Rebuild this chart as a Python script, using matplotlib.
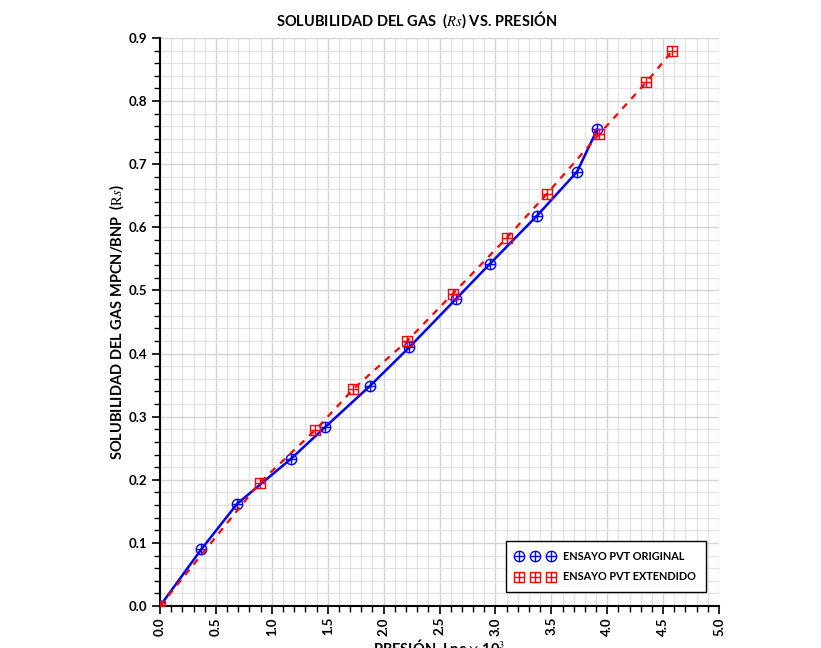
import numpy as np
import matplotlib.pyplot as plt
from matplotlib.path import Path
from matplotlib.ticker import MultipleLocator, FormatStrFormatter

plt.rcParams['font.family'] = ['Lato', 'DejaVu Sans']
plt.rcParams['mathtext.fontset'] = 'stix'

# ensayo PVT original
p_orig = [0.0, 0.37, 0.69, 1.17, 1.48, 1.88, 2.23, 2.65, 2.95, 3.37, 3.73, 3.91]
rs_orig = [0.0, 0.090, 0.162, 0.233, 0.284, 0.349, 0.410, 0.487, 0.542, 0.618, 0.688, 0.755]

# ensayo PVT extendido
p_ext = [0.0, 0.89, 1.39, 1.73, 2.21, 2.62, 3.10, 3.46, 3.93, 4.35, 4.58]
rs_ext = [0.0, 0.195, 0.279, 0.344, 0.420, 0.495, 0.583, 0.653, 0.748, 0.830, 0.879]

# custom markers: circle with a cross, square with a cross
circ = Path.unit_circle()
cross = Path([(-1, 0), (1, 0), (0, -1), (0, 1)],
             [Path.MOVETO, Path.LINETO, Path.MOVETO, Path.LINETO])
oplus = Path.make_compound_path(circ, cross)
sq = Path([(-1, -1), (1, -1), (1, 1), (-1, 1), (-1, -1)],
          [Path.MOVETO, Path.LINETO, Path.LINETO, Path.LINETO, Path.CLOSEPOLY])
boxplus = Path.make_compound_path(sq, cross)

fig = plt.figure(figsize=(8.21, 6.48), dpi=100)
ax = fig.add_axes([0.1949, 0.0648, 0.6809, 0.8766])

ax.plot(p_orig, rs_orig, color='#0000ff', linewidth=1.8, marker=oplus, markersize=7.5,
        markerfacecolor='none', markeredgecolor='#0000ff', markeredgewidth=1.0,
        label='ENSAYO PVT ORIGINAL', zorder=3)
ax.plot(p_ext, rs_ext, color='#ff0000', linewidth=1.6, linestyle=(0, (3, 3)), marker=boxplus,
        markersize=6.5, markerfacecolor='none', markeredgecolor='#ff0000', markeredgewidth=1.0,
        label='ENSAYO PVT EXTENDIDO', zorder=4)

ax.set_xlim(0, 5)
ax.set_ylim(0, 0.9)
ax.xaxis.set_major_locator(MultipleLocator(0.5))
ax.xaxis.set_minor_locator(MultipleLocator(0.1))
ax.yaxis.set_major_locator(MultipleLocator(0.1))
ax.yaxis.set_minor_locator(MultipleLocator(0.02))
ax.xaxis.set_major_formatter(FormatStrFormatter('%.1f'))
ax.yaxis.set_major_formatter(FormatStrFormatter('%.1f'))

ax.grid(which='minor', color='#e3e3e3', linewidth=0.9)
ax.grid(which='major', color='#d4d4d4', linewidth=1.0)
ax.set_axisbelow(True)
ax.spines['top'].set_visible(False)
ax.spines['right'].set_visible(False)
ax.spines['left'].set_linewidth(1.5)
ax.spines['bottom'].set_linewidth(1.5)
ax.tick_params(which='major', length=6, width=1.2, labelsize=9.5, pad=3)
ax.tick_params(which='minor', length=4, width=1.0)
ax.tick_params(axis='x', labelrotation=90, pad=2)
for lbl in ax.get_xticklabels() + ax.get_yticklabels():
    lbl.set_fontweight('bold')

fig.text(0.508, 0.970, 'SOLUBILIDAD DEL GAS  ($\\mathit{Rs}$) VS. PRESIÓN', fontsize=10.5,
         fontweight='bold', ha='center', va='center')
ax.set_ylabel('SOLUBILIDAD DEL GAS MPCN/BNP  ($\\mathrm{R}\\mathit{s}$)', fontsize=10.5,
              fontweight='bold', labelpad=2)
ax.set_xlabel('PRESIÓN, Lpc $\\times$ 10$^3$', fontsize=10.5, fontweight='bold', labelpad=1)

leg = ax.legend(loc='lower right', bbox_to_anchor=(0.986, 0.015), numpoints=3,
                fancybox=False, framealpha=1, edgecolor='black', fontsize=7.8,
                handlelength=3.6, borderpad=0.9, labelspacing=0.9, handletextpad=0.8)
leg.get_frame().set_linewidth(1.0)
for t in leg.get_texts():
    t.set_fontweight('bold')
for h in leg.legend_handles:
    h.set_linestyle('none')

fig.savefig('out.png', dpi=100)
